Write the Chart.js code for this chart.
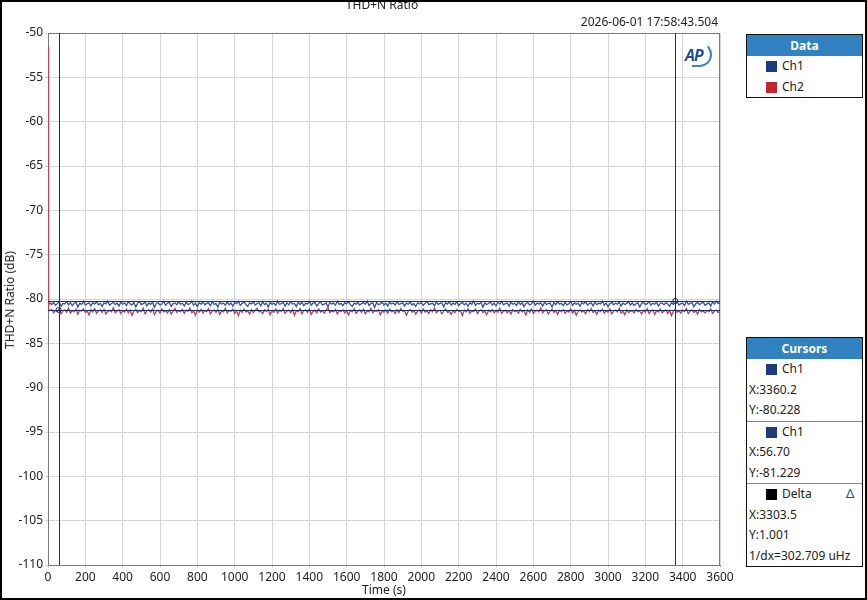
<!DOCTYPE html>
<html>
<head>
<meta charset="utf-8">
<script src="https://cdn.jsdelivr.net/npm/chart.js@4"></script>
<style>
  body { margin: 0; background: #fff; font-family: "Noto Sans", sans-serif; }
  #wrap { position: relative; width: 867px; height: 600px; overflow: hidden; }
  #frame { position: absolute; left: 0; top: 0; width: 867px; height: 600px; box-sizing: border-box; border: 2px solid #000; pointer-events: none; }
  .txt { position: absolute; font-size: 12px; color: #222; white-space: nowrap; line-height: 14px; }
  .panel { position: absolute; left: 746px; width: 117px; box-sizing: border-box; border: 1px solid #111; background: #fff; }
  .panel .head { height: 21px; background: #3282c1; color: #fff; font-weight: bold; font-size: 12px; text-align: center; line-height: 21px; }
  .row { position: relative; height: 20.5px; font-size: 12px; line-height: 20.5px; color: #222; padding-left: 2px; }
  .sw { position: absolute; top: 5px; width: 11px; height: 11px; }
  .sep { border-top: 1px solid #888; }
  #ap { position: absolute; left: 683px; top: 42px; width: 30px; height: 24px; }
</style>
</head>
<body>
<div id="wrap">
  <canvas id="c" width="867" height="600"></canvas>
  <div class="txt" style="left:0;width:764px;text-align:center;top:-2px;">THD+N Ratio</div>
  <div class="txt" style="right:149px;top:15px;">2026-06-01 17:58:43.504</div>
  <div class="txt" style="transform-origin:0 0;transform:rotate(-90deg) translate(-50%,0);left:3px;top:300px;">THD+N Ratio (dB)</div>
  <div class="txt" style="left:0;width:768px;text-align:center;top:583px;">Time (s)</div>
  <div id="ap">
    <span style="position:absolute;left:2px;top:2px;font:italic bold 16px 'Noto Sans',sans-serif;color:#1d4f96;letter-spacing:-1px;">AP</span>
    <span style="position:absolute;left:9px;top:0;width:18px;height:21px;border:2px solid #3a86c8;border-left:none;border-top-color:transparent;border-radius:0 14px 14px 0;"></span>
  </div>

  <div class="panel" style="top:34px;height:64px;">
    <div class="head">Data</div>
    <div class="row"><span class="sw" style="left:19px;background:#1c3a7c;"></span><span style="margin-left:33px;">Ch1</span></div>
    <div class="row"><span class="sw" style="left:19px;background:#c1272d;"></span><span style="margin-left:33px;">Ch2</span></div>
  </div>

  <div class="panel" style="top:337px;height:230px;">
    <div class="head">Cursors</div>
    <div class="row"><span class="sw" style="left:19px;background:#1c3a7c;"></span><span style="margin-left:33px;">Ch1</span></div>
    <div class="row">X:3360.2</div>
    <div class="row">Y:-80.228</div>
    <div class="row sep"><span class="sw" style="left:19px;background:#1c3a7c;"></span><span style="margin-left:33px;">Ch1</span></div>
    <div class="row">X:56.70</div>
    <div class="row">Y:-81.229</div>
    <div class="row sep"><span class="sw" style="left:19px;background:#000;"></span><span style="margin-left:33px;">Delta</span><span style="position:absolute;left:99px;top:-1px;color:#1d4f96;font-size:13px;">&#916;</span></div>
    <div class="row">X:3303.5</div>
    <div class="row">Y:1.001</div>
    <div class="row">1/dx=302.709 uHz</div>
  </div>
  <div id="frame"></div>
</div>
<script>
// start of sweep (Ch2 settles from a high first reading)
const startTime = [0, 3];
const startCh1 = [-80.52, -80.61];
const startCh2 = [-51.5, -81.25];

// readings every 10 s from 10 s to 3600 s
const sampleStep = 10;
const ch1 = [
  -80.45,-80.62,-80.38,-80.71,-80.52,-80.33,-80.82,-80.49,-80.57,-80.29,-80.66,-80.41,
  -80.74,-80.50,-80.36,-80.91,-80.47,-80.60,-80.27,-80.69,-80.54,-80.43,-80.78,-80.39,
  -80.58,-80.31,-80.65,-80.48,-80.85,-80.42,-80.56,-80.24,-80.70,-80.51,-80.37,-80.63,
  -80.46,-80.80,-80.35,-80.59,-80.44,-80.73,-80.30,-80.55,-80.67,-80.40,-80.88,-80.49,
  -80.28,-80.64,-80.53,-80.36,-80.76,-80.45,-80.61,-80.33,-80.94,-80.50,-80.42,-80.68,
  -80.57,-80.26,-80.72,-80.47,-80.39,-80.83,-80.52,-80.44,-80.65,-80.31,-80.59,-80.48,
  -80.79,-80.37,-80.62,-80.54,-80.23,-80.70,-80.46,-80.87,-80.41,-80.58,-80.34,-80.66,
  -80.50,-80.43,-80.75,-80.29,-80.61,-80.52,-80.90,-80.38,-80.56,-80.47,-80.69,-80.32,
  -80.64,-80.45,-80.81,-80.40,-80.53,-80.27,-80.72,-80.49,-80.36,-80.60,-80.84,-80.43,
  -80.55,-80.34,-80.67,-80.51,-80.42,-80.77,-80.30,-80.63,-80.48,-80.92,-80.39,-80.58,
  -80.46,-80.71,-80.25,-80.60,-80.53,-80.37,-80.80,-80.44,-80.65,-80.31,-80.57,-80.50,
  -80.86,-80.41,-80.62,-80.35,-80.74,-80.48,-80.55,-80.28,-80.68,-80.45,-80.40,-80.79,
  -80.52,-80.33,-80.66,-80.59,-80.43,-80.89,-80.38,-80.57,-80.47,-80.70,-80.26,-80.61,
  -80.49,-80.75,-80.42,-80.54,-80.31,-80.64,-80.83,-80.46,-80.58,-80.37,-80.69,-80.52,
  -80.40,-80.60,-80.24,-80.73,-80.50,-80.44,-80.95,-80.39,-80.63,-80.55,-80.34,-80.67,
  -80.48,-80.81,-80.36,-80.57,-80.45,-80.70,-80.29,-80.62,-80.53,-80.41,-80.78,-80.47,
  -80.59,-80.32,-80.68,-80.51,-80.85,-80.43,-80.56,-80.38,-80.72,-80.49,-80.27,-80.64,
  -80.54,-80.46,-80.76,-80.35,-80.61,-80.50,-80.42,-80.88,-80.40,-80.58,-80.33,-80.69,
  -80.45,-80.63,-80.30,-80.74,-80.52,-80.39,-80.66,-80.47,-80.82,-80.43,-80.60,-80.25,
  -80.71,-80.49,-80.56,-80.37,-80.93,-80.44,-80.62,-80.51,-80.34,-80.68,-80.46,-80.77,
  -80.40,-80.58,-80.28,-80.65,-80.53,-80.45,-80.80,-80.36,-80.59,-80.48,-80.73,-80.31,
  -80.62,-80.44,-80.86,-80.50,-80.39,-80.67,-80.55,-80.23,-80.70,-80.47,-80.57,-80.42,
  -80.79,-80.35,-80.61,-80.52,-80.46,-80.90,-80.41,-80.64,-80.33,-80.58,-80.49,-80.75,
  -80.38,-80.66,-80.54,-80.29,-80.72,-80.45,-80.60,-80.48,-80.84,-80.40,-80.56,-80.32,
  -80.69,-80.51,-80.43,-80.77,-80.36,-80.63,-80.47,-80.55,-80.26,-80.71,-80.44,-80.87,
  -80.52,-80.39,-80.65,-80.48,-80.58,-80.34,-80.81,-80.46,-80.62,-80.50,-80.30,-80.68,
  -80.43,-80.74,-80.55,-80.41,-80.91,-80.49,-80.37,-80.64,-80.53,-80.27,-80.70,-80.46,
  -80.59,-80.35,-80.78,-80.50,-80.44,-80.66,-80.40,-80.57,-80.83,-80.38,-80.61,-80.48,
  -80.31,-80.67,-80.52,-80.45,-80.73,-80.24,-80.60,-80.49,-80.42,-80.86,-80.54,-80.39,
  -80.64,-80.47,-80.36,-80.70,-80.55,-80.43,-80.79,-80.33,-80.58,-80.23,-80.50,-80.45
];
const ch2 = [
  -81.32,-81.18,-81.55,-81.27,-81.41,-81.09,-81.66,-81.35,-81.22,-81.48,-81.03,-81.59,
  -81.30,-81.44,-81.15,-81.72,-81.26,-81.38,-81.11,-81.52,-81.34,-81.80,-81.21,-81.45,
  -81.07,-81.61,-81.33,-81.25,-81.50,-81.17,-81.69,-81.39,-81.28,-81.43,-80.98,-81.56,
  -81.36,-81.20,-81.64,-81.31,-81.47,-81.13,-81.58,-81.24,-81.85,-81.37,-81.19,-81.53,
  -81.29,-81.42,-81.05,-81.67,-81.34,-81.23,-81.49,-81.14,-81.75,-81.40,-81.27,-81.60,
  -81.12,-81.46,-81.33,-81.57,-81.21,-81.70,-81.36,-81.08,-81.51,-81.30,-81.44,-81.18,
  -81.63,-81.26,-81.39,-81.01,-81.54,-81.35,-81.82,-81.22,-81.48,-81.16,-81.59,-81.31,
  -81.43,-81.10,-81.68,-81.37,-81.25,-81.52,-81.19,-81.73,-81.34,-81.46,-81.06,-81.57,
  -81.28,-81.40,-81.15,-81.62,-81.33,-81.88,-81.24,-81.50,-81.12,-81.45,-81.36,-81.71,
  -81.20,-81.55,-81.31,-81.04,-81.47,-81.38,-81.65,-81.23,-81.42,-81.17,-81.78,-81.35,
  -81.49,-81.13,-81.58,-81.29,-81.41,-81.09,-81.61,-81.37,-81.26,-81.53,-81.19,-81.84,
  -81.32,-81.44,-81.07,-81.66,-81.35,-81.22,-81.50,-81.14,-81.74,-81.39,-81.28,-81.56,
  -81.11,-81.47,-81.34,-81.60,-81.25,-80.97,-81.53,-81.36,-81.43,-81.18,-81.69,-81.30,
  -81.42,-81.21,-81.57,-81.33,-81.79,-81.27,-81.45,-81.10,-81.62,-81.38,-81.24,-81.51,
  -81.16,-81.68,-81.35,-81.46,-81.05,-81.55,-81.31,-81.41,-81.20,-81.76,-81.37,-81.48,
  -81.26,-81.59,-81.13,-81.44,-81.34,-81.64,-81.22,-81.52,-81.08,-81.40,-81.30,-81.83,
  -81.36,-81.17,-81.50,-81.28,-81.71,-81.39,-81.24,-81.58,-81.12,-81.47,-81.33,-81.63,
  -81.21,-81.45,-81.02,-81.56,-81.35,-81.27,-81.67,-81.38,-81.15,-81.49,-81.42,-81.74,
  -81.29,-81.53,-81.18,-81.40,-81.32,-81.86,-81.25,-81.46,-81.09,-81.60,-81.36,-81.43,
  -81.14,-81.65,-81.34,-81.23,-81.51,-81.37,-81.77,-81.28,-81.44,-81.19,-81.57,-81.31,
  -81.48,-81.06,-81.62,-81.39,-81.26,-81.54,-81.33,-81.70,-81.21,-81.42,-81.35,-81.59,
  -81.17,-81.46,-81.30,-81.81,-81.25,-81.50,-81.12,-81.64,-81.37,-81.28,-81.45,-81.00,
  -81.55,-81.34,-81.22,-81.68,-81.40,-81.15,-81.52,-81.31,-81.73,-81.27,-81.43,-81.19,
  -81.61,-81.36,-81.48,-81.11,-81.57,-81.29,-81.85,-81.38,-81.24,-81.47,-81.33,-81.66,
  -81.20,-81.44,-81.08,-81.53,-81.35,-81.72,-81.26,-81.41,-81.16,-81.58,-81.32,-81.49,
  -81.13,-81.67,-81.37,-81.25,-81.46,-81.03,-81.60,-81.34,-81.79,-81.22,-81.51,-81.39,
  -81.30,-81.56,-81.18,-81.43,-81.35,-81.69,-81.27,-81.48,-81.10,-81.62,-81.36,-81.24,
  -81.75,-81.32,-81.45,-81.14,-81.54,-81.38,-81.21,-81.63,-81.29,-81.87,-81.40,-81.17,
  -81.50,-81.33,-81.59,-81.26,-81.42,-81.07,-81.65,-81.37,-81.23,-81.52,-81.31,-81.71,
  -81.19,-81.46,-81.35,-81.58,-81.28,-81.44,-81.12,-81.61,-81.39,-81.25,-81.53,-81.34
];

// cursor readouts
const cursorX = [3360.2, 56.70];
const cursorY = [-80.228, -81.229];

const toPoints = (head, vals) => {
  const pts = startTime.map((t, i) => ({ x: t, y: head[i] }));
  vals.forEach((v, i) => pts.push({ x: (i + 1) * sampleStep, y: v }));
  return pts;
};

const cursorPlugin = {
  id: "cursors",
  beforeDatasetsDraw(chart) {
    // plot frame under the traces
    const { ctx, chartArea: a } = chart;
    ctx.save();
    ctx.strokeStyle = "#7a7a7a";
    ctx.lineWidth = 1;
    ctx.strokeRect(a.left + 0.5, a.top + 0.5, a.right - a.left - 1, a.bottom - a.top);
    ctx.restore();
  },
  afterDatasetsDraw(chart) {
    const { ctx, chartArea: a, scales } = chart;
    ctx.save();
    ctx.beginPath();
    ctx.rect(a.left, a.top, a.right - a.left, a.bottom - a.top);
    ctx.clip();
    ctx.strokeStyle = "#1c2f66";
    ctx.lineWidth = 1;
    cursorX.forEach((x) => {
      const px = Math.round(scales.x.getPixelForValue(x)) + 0.5;
      ctx.beginPath();
      ctx.moveTo(px, a.top);
      ctx.lineTo(px, a.bottom);
      ctx.stroke();
    });
    cursorY.forEach((y) => {
      const py = Math.round(scales.y.getPixelForValue(y)) + 0.5;
      ctx.beginPath();
      ctx.moveTo(a.left, py);
      ctx.lineTo(a.right, py);
      ctx.stroke();
    });
    cursorX.forEach((x, i) => {
      ctx.beginPath();
      ctx.arc(scales.x.getPixelForValue(x), scales.y.getPixelForValue(cursorY[i]), 2.5, 0, Math.PI * 2);
      ctx.stroke();
    });
    ctx.restore();
  },
};

new Chart(document.getElementById("c"), {
  type: "line",
  data: {
    datasets: [
      { label: "Ch2", data: toPoints(startCh2, ch2), borderColor: "#c23e50", borderWidth: 1.3, pointRadius: 0, order: 0 },
      { label: "Ch1", data: toPoints(startCh1, ch1), borderColor: "#3552a4", borderWidth: 1.3, pointRadius: 0, order: 1 },
    ],
  },
  options: {
    responsive: false,
    animation: false,
    events: [],
    layout: { padding: { top: 33, right: 147, bottom: 0, left: 0 } },
    plugins: { legend: { display: false }, tooltip: { enabled: false } },
    scales: {
      x: {
        type: "linear",
        min: 0,
        max: 3600,
        afterFit: (s) => { s.height = 35; },
        ticks: { stepSize: 200, color: "#222", font: { family: "Noto Sans", size: 12 }, padding: 2, maxRotation: 0, autoSkip: false, callback: (v) => String(v) },
        grid: { color: "#d6d6d6", tickLength: 3 },
        border: { color: "#7a7a7a" },
      },
      y: {
        type: "linear",
        min: -110,
        max: -50,
        afterFit: (s) => { s.width = 48; },
        ticks: { stepSize: 5, color: "#222", font: { family: "Noto Sans", size: 12 }, padding: 2 },
        grid: { color: "#d6d6d6", tickLength: 3 },
        border: { color: "#7a7a7a" },
      },
    },
  },
  plugins: [cursorPlugin],
});
</script>
</body>
</html>
